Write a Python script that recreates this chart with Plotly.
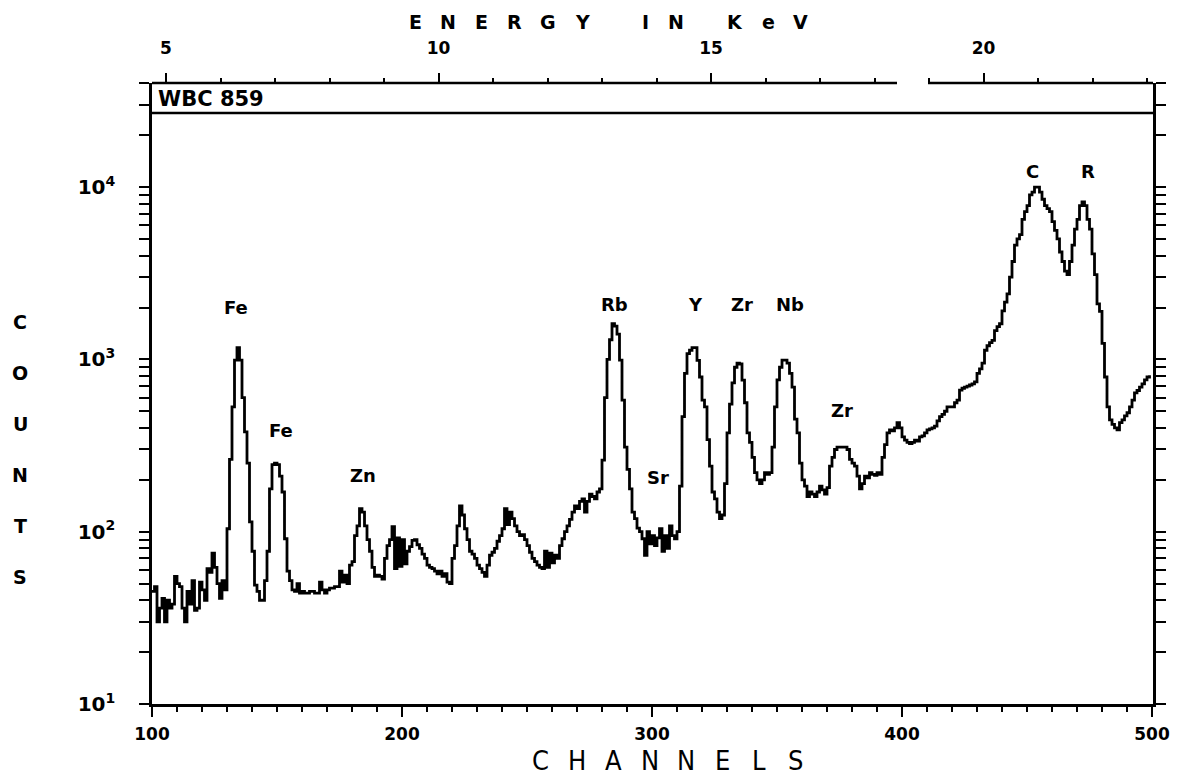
import math
import plotly.graph_objects as go

# counts per channel, channels 100..499 (rows of 10 channels)
counts = [
    45, 48, 30, 36, 41, 30, 40, 36, 38, 55,
    50, 48, 36, 30, 45, 38, 52, 35, 36, 51,
    46, 40, 61, 58, 75, 62, 50, 41, 52, 46,
    104, 263, 530, 990, 1170, 990, 600, 380, 250, 114,
    77, 49, 45, 40, 40, 52, 77, 177, 245, 250,
    245, 210, 170, 91, 59, 52, 46, 45, 50, 44,
    45, 44, 44, 45, 45, 44, 44, 51, 46, 44,
    46, 47, 47, 48, 48, 59, 51, 56, 50, 64,
    67, 95, 108, 136, 130, 108, 90, 77, 62, 55,
    56, 55, 53, 70, 83, 90, 107, 61, 92, 63,
    90, 65, 77, 82, 89, 90, 84, 80, 74, 70,
    64, 62, 61, 59, 57, 59, 55, 57, 51, 50,
    70, 83, 108, 141, 125, 104, 90, 77, 74, 70,
    64, 61, 58, 55, 64, 73, 76, 80, 88, 95,
    104, 136, 110, 130, 119, 108, 100, 95, 96, 90,
    83, 76, 70, 67, 64, 62, 61, 77, 62, 75,
    66, 73, 70, 83, 91, 100, 108, 118, 130, 141,
    136, 150, 155, 130, 150, 165, 160, 155, 170, 177,
    260, 600, 1000, 1300, 1610, 1560, 1400, 990, 580, 310,
    230, 177, 130, 119, 105, 100, 91, 73, 100, 85,
    95, 83, 92, 104, 77, 95, 80, 108, 95, 91,
    100, 184, 465, 830, 1080, 1130, 1170, 1170, 986, 790,
    580, 530, 342, 240, 170, 155, 130, 119, 125, 190,
    375, 550, 730, 900, 950, 940, 757, 560, 375, 330,
    270, 220, 200, 190, 200, 220, 215, 220, 310, 530,
    760, 900, 990, 990, 950, 830, 690, 450, 375, 250,
    200, 184, 160, 170, 165, 160, 170, 184, 175, 165,
    180, 240, 270, 300, 310, 310, 310, 310, 300, 263,
    250, 240, 210, 177, 190, 210, 205, 220, 215, 212,
    220, 215, 270, 320, 375, 390, 385, 400, 430, 400,
    355, 340, 330, 325, 330, 340, 335, 355, 360, 375,
    390, 395, 400, 410, 440, 465, 480, 500, 530, 530,
    530, 560, 580, 663, 680, 690, 700, 710, 720, 740,
    830, 880, 950, 1130, 1200, 1250, 1290, 1470, 1550, 1610,
    1910, 2150, 2400, 3000, 3700, 4600, 5000, 5300, 6500, 7200,
    7800, 9000, 9350, 10000, 10000, 9350, 8500, 7800, 7500, 7200,
    6300, 5600, 5000, 4200, 3700, 3250, 3100, 3700, 4600, 5700,
    6500, 7800, 8200, 7800, 6500, 5700, 4100, 3100, 2100, 1900,
    1240, 790, 530, 446, 420, 400, 390, 430, 446, 470,
    490, 530, 580, 640, 660, 690, 720, 760, 790, 810,
]
channels = list(range(100, 100 + len(counts)))

peak_names = ["Fe", "Fe", "Zn", "Rb", "Sr", "Y", "Zr", "Nb", "Zr", "C", "R"]
peak_channels = [133.6, 151.6, 184.4, 284.8, 302.4, 317.2, 336.0, 355.2, 376.0, 452.0, 474.4]
peak_label_counts = [1990, 389, 213, 2070, 205, 2070, 2070, 2070, 508, 12250, 12250]

x_ticks = [100, 200, 300, 400, 500]
y_ticks = [10, 100, 1000, 10000]
y_tick_text = ["10<sup>1</sup>", "10<sup>2</sup>", "10<sup>3</sup>", "10<sup>4</sup>"]
energy_ticks = [5, 10, 15, 20]

# energy calibration: channel = KEV_GAIN * E + KEV_OFFSET
KEV_GAIN, KEV_OFFSET = 21.8, -3.4
X_MIN, X_MAX = 100, 500.4
Y_LOG_MIN, Y_LOG_MAX = 1, 4.604

# page is drawn with an 8px body margin; plot box given in page pixels
PAGE_PAD = 8
W, H = 1182 - PAGE_PAD, 781 - PAGE_PAD
PL, PR, PT, PB = 152, 1153, 83, 704


def paper(xp, yp):
    return (xp - PL) / (PR - PL), (PB - yp) / (PB - PT)


BOLD = dict(family="DejaVu Sans", size=17, color="black", weight="bold")

fig = go.Figure()
fig.add_trace(go.Scatter(
    x=channels, y=counts, mode="lines", line_shape="hv",
    line=dict(color="black", width=2.8), showlegend=False, hoverinfo="x+y",
))
# empty trace so the energy axis on top is drawn
fig.add_trace(go.Scatter(x=[], y=[], xaxis="x2", yaxis="y", showlegend=False))

axis_common = dict(showgrid=False, zeroline=False, linecolor="black", tickcolor="black")

fig.update_layout(
    width=W, height=H,
    margin=dict(l=PL - PAGE_PAD, r=1182 - PR, t=PT - PAGE_PAD, b=781 - PB),
    paper_bgcolor="white", plot_bgcolor="white",
    xaxis=dict(**axis_common, tickfont=BOLD, range=[X_MIN, X_MAX], showline=True,
               linewidth=2.5, ticks="outside", ticklen=10, tickwidth=2, tickvals=x_ticks,
               minor=dict(ticks="outside", ticklen=5, tickwidth=1.5, tick0=100, dtick=10),
               ticklabelstandoff=3),
    yaxis=dict(**axis_common, tickfont=dict(BOLD, size=20), type="log",
               range=[Y_LOG_MIN, Y_LOG_MAX], showline=True,
               linewidth=2.5, mirror="allticks", ticks="outside", ticklen=10, tickwidth=2,
               tickvals=y_ticks, ticktext=y_tick_text,
               minor=dict(ticks="outside", ticklen=6, tickwidth=1.5, dtick="D1"),
               ticklabelstandoff=20),
    xaxis2=dict(**axis_common, tickfont=BOLD, overlaying="x", side="top", anchor="y",
                range=[(X_MIN - KEV_OFFSET) / KEV_GAIN, (X_MAX - KEV_OFFSET) / KEV_GAIN],
                showline=False, ticks="outside", ticklen=9, tickwidth=2, tickvals=energy_ticks,
                minor=dict(ticks="outside", ticklen=4, tickwidth=1.5, tick0=5, dtick=1),
                ticklabelstandoff=12),
)

# top frame line with its gap, and the sample-label strip
line_style = dict(color="black", width=2.5)
fig.add_shape(type="line", xref="x", yref="paper", x0=X_MIN, x1=398, y0=1, y1=1, line=line_style)
fig.add_shape(type="line", xref="x", yref="paper", x0=410.4, x1=X_MAX, y0=1, y1=1, line=line_style)
strip_y = paper(0, 113)[1]
fig.add_shape(type="line", xref="paper", yref="paper", x0=0, x1=1, y0=strip_y, y1=strip_y,
              line=line_style)


def label(xp, yp, text, font, xanchor="center"):
    ax, ay = paper(xp, yp)
    fig.add_annotation(x=ax, y=ay, xref="paper", yref="paper", text=text, showarrow=False,
                       xanchor=xanchor, yanchor="middle", font=font)


label(156, 99, "WBC 859", dict(family="DejaVu Sans", size=21, color="black", weight="bold"),
      xanchor="left")

for name, ch, cnt in zip(peak_names, peak_channels, peak_label_counts):
    fig.add_annotation(x=ch, y=math.log10(cnt), text=name, showarrow=False,
                       xanchor="center", yanchor="middle",
                       font=dict(family="DejaVu Sans", size=18, color="black", weight="bold"))

# spaced-out axis titles
title_font = dict(family="DejaVu Sans", size=19, color="black", weight="bold")
title_letters = [("E", 415), ("N", 448), ("E", 481), ("R", 514), ("G", 548), ("Y", 582),
                 ("I", 645), ("N", 676), ("K", 735), ("e", 768), ("V", 800)]
for ch_, xp in title_letters:
    label(xp, 22, ch_, title_font)

chan_font = dict(family="Liberation Sans Narrow, DejaVu Sans Condensed, sans-serif",
                 size=27, color="black")
for i, ch_ in enumerate("CHANNELS"):
    label(540 + i * 36.5, 760, ch_, chan_font)

for i, ch_ in enumerate("COUNTS"):
    label(20, 322 + i * 51, ch_, title_font)

fig.write_html("out.html")
